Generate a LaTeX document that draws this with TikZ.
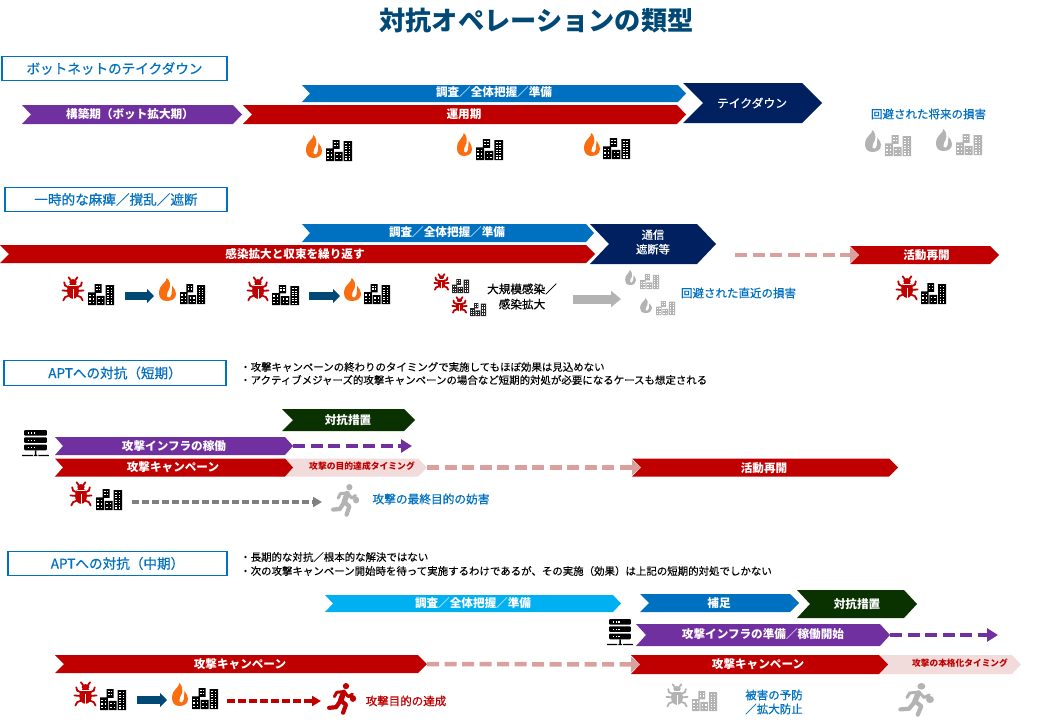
\documentclass[tikz,border=0pt]{standalone}
\usepackage{fontspec}
\setmainfont{Noto Sans CJK JP}
\newfontfamily\medfont[FakeBold=0.6]{Noto Sans CJK JP}
\newfontfamily\notefont[FakeBold=0.2]{Noto Sans CJK JP}
\usetikzlibrary{arrows.meta}
\definecolor{cblue}{HTML}{0070C0}
\definecolor{cred}{HTML}{C00000}
\definecolor{cpurple}{HTML}{7030A0}
\definecolor{cnavy}{HTML}{002060}
\definecolor{cgreen}{HTML}{0A3200}
\definecolor{csky}{HTML}{00B0F0}
\definecolor{cpink}{HTML}{F2DCDB}
\definecolor{cdash}{HTML}{D9A09E}
\definecolor{ctitle}{HTML}{004976}
\definecolor{cgray}{HTML}{B3B3B3}
\definecolor{cflame}{HTML}{F96E10}
\tikzset{
  bartext/.style={text=white,inner sep=0pt,align=center,font=\fontsize{11.6}{15}\selectfont\bfseries},
  bluetext/.style={text=cblue,inner sep=0pt,align=center,font=\fontsize{11.5}{14}\selectfont\medfont},
  secbox/.style={draw=cblue,line width=1.7pt,fill=white,inner sep=0pt,text=cblue,font=\fontsize{13.6}{16}\selectfont\medfont},
  notetext/.style={text=black,inner sep=0pt,anchor=west,font=\fontsize{10.45}{13}\selectfont\notefont},
  pinkdash/.style={draw=cdash,line width=4.5pt,dash pattern=on 12pt off 5.5pt,-{Triangle[length=9pt,width=15pt,fill=cdash]}},
  purpdash/.style={draw=cpurple,line width=3.8pt,dash pattern=on 12pt off 5.5pt,-{Triangle[length=11pt,width=13pt,fill=cpurple]}},
  graydash/.style={draw=black!50,line width=3.3pt,dash pattern=on 7pt off 3pt,-{Triangle[length=9pt,width=10pt,fill=black!50]}},
  reddash/.style={draw=cred,line width=3.3pt,dash pattern=on 8pt off 3pt,-{Triangle[length=9pt,width=10pt,fill=cred]}},
  blockblue/.style={draw=ctitle,line width=8pt,-{Triangle[length=7pt,width=14pt,fill=ctitle]}},
  blockgray/.style={draw=cgray,line width=9pt,-{Triangle[length=10pt,width=16pt,fill=cgray]}},
}
% chevron: name x1 x2 top bottom notch colour
\newcommand{\chev}[7]{%
  \fill[#7] (#2,#4) -- ({#3-#6},#4) -- (#3,{(#4+#5)/2}) -- ({#3-#6},#5) -- (#2,#5) -- ({#2+#6},{(#4+#5)/2}) -- cycle;
  \coordinate (#1-tip) at (#3,{(#4+#5)/2});
  \coordinate (#1-notch) at ({#2+#6},{(#4+#5)/2});
}
\newcommand{\bx}[5]{% x1 y1 x2 y2 body
  \pgfmathsetmacro\icw{(#3-#1)/100}\pgfmathsetmacro\ich{(#4-#2)/100}
  \begin{scope}[shift={(#1,#2)},x=\icw pt,y=-\ich pt]#5\end{scope}}
\newcommand{\bldg}[5]{\bx{#1}{#2}{#3}{#4}{%
  \fill[#5] (25,0) rectangle (52,42) (0,40) rectangle (30,100) (33,56) rectangle (64,100) (68,5) rectangle (100,100);
  \foreach \i in {31,42} \foreach \j in {8,22} \fill[white] (\i,\j) rectangle +(6,7);
  \foreach \i in {5,18} \foreach \j in {52,68,84} \fill[white] (\i,\j) rectangle +(6,7);
  \foreach \i in {39,52} \foreach \j in {66,84} \fill[white] (\i,\j) rectangle +(6,7);
  \foreach \i in {74,87} \foreach \j in {16,28,...,90} \fill[white] (\i,\j) rectangle +(6,5);
}}
\newcommand{\flame}[5]{\bx{#1}{#2}{#3}{#4}{%
  \fill[#5] (45,100) .. controls (15,100) and (0,85) .. (0,65) .. controls (0,45) and (12,35) .. (28,22)
    .. controls (38,15) and (45,10) .. (45,0) .. controls (65,10) and (68,30) .. (62,45)
    .. controls (55,58) and (42,68) .. (46,80) .. controls (50,90) and (68,88) .. (74,70)
    .. controls (78,55) and (75,50) .. (78,35) .. controls (95,50) and (100,60) .. (100,70)
    .. controls (100,90) and (75,100) .. (45,100) -- cycle;
}}
\newcommand{\bug}[5]{\bx{#1}{#2}{#3}{#4}{%
  \fill[#5] (50,58) ellipse [x radius=27,y radius=33];
  \fill[#5] (50,21) ellipse [x radius=17,y radius=12];
  \draw[#5,line width=1.8pt,line cap=round] (40,14)--(30,1) (60,14)--(70,1)
    (28,42)--(14,36)--(10,22) (72,42)--(86,36)--(90,22)
    (26,58)--(2,56) (74,58)--(98,56)
    (30,78)--(14,84)--(6,98) (70,78)--(86,84)--(94,98);
  \draw[white,line width=0.5pt] (50,48)--(50,92);
  \draw[white,line width=0.4pt] (32,33) -- (68,33);
}}
\newcommand{\server}[4]{\bx{#1}{#2}{#3}{#4}{%
  \foreach \j in {0,27,54} {
    \fill[black,rounded corners=1pt] (8,\j) rectangle +(84,21);
    \foreach \i in {22,33,44} \fill[white] (\i,\j+9) rectangle +(5,5);
  }
  \fill[black] (48,75) rectangle (53,96) (0,92) rectangle (40,97) (61,92) rectangle (100,97) (44,92) rectangle (57,97);
}}
\newcommand{\runner}[5]{\bx{#1}{#2}{#3}{#4}{%
  \fill[#5] (62,10) ellipse [x radius=11,y radius=10];
  \fill[#5] (86,50) ellipse [x radius=11,y radius=11];
  \draw[#5,line width=5.5pt,line cap=round,line join=round]
    (54,30)--(44,56);
  \draw[#5,line width=4.2pt,line cap=round,line join=round]
    (44,56)--(62,70)--(52,96)
    (44,56)--(28,78)--(4,80);
  \draw[#5,line width=3pt,line cap=round,line join=round]
    (52,28)--(30,30)--(22,44) (56,28)--(70,44)--(84,36);
}}
\begin{document}
\begin{tikzpicture}[x=1pt,y=-1pt]
\useasboundingbox (0,0) rectangle (1046,725);
\node[inner sep=0pt,text=ctitle,font=\fontsize{26.2}{30}\selectfont\bfseries] (title) at (536.5,20.5) {対抗オペレーションの類型};

% ---- section 1
\node[secbox,minimum width=225pt,minimum height=24pt] (s1) at (114.5,68.5) {\raisebox{1pt}{ボットネットのテイクダウン}};
\chev{a1}{302}{686}{85}{102}{8}{cblue}
\chev{a2}{22}{242}{105}{124}{9}{cpurple}
\chev{a3}{243}{686}{105}{124}{9}{cred}
\chev{a4}{683}{822}{83}{123}{20}{cnavy}
\node[bartext] (a1t) at (494,92.5) {調査／全体把握／準備};
\node[bartext] (a2t) at (130,114) {構築期（ボット拡大期）};
\node[bartext] (a3t) at (464,114) {運用期};
\node[bartext,font=\fontsize{11.8}{15}\selectfont\medfont] (a4t) at (752,103) {テイクダウン};
\flame{306}{135}{322}{158}{cflame}\bldg{326}{140}{352}{161}{black}
\flame{457}{133}{472}{156}{cflame}\bldg{476}{139}{503}{160}{black}
\flame{584}{133}{600}{156}{cflame}\bldg{603}{138}{630}{159}{black}
\flame{865}{130}{881}{152}{cgray}\bldg{885}{135}{911}{156}{cgray}
\flame{936}{129}{952}{151}{cgray}\bldg{956}{134}{982}{155}{cgray}
\node[bluetext] (a5) at (928.5,114) {回避された将来の損害};

% ---- section 2
\node[secbox,minimum width=222pt,minimum height=24pt] (s2) at (116,199.5) {\raisebox{1pt}{一時的な麻痺／撹乱／遮断}};
\chev{b1}{302}{594}{224}{242}{8}{cblue}
\chev{b2}{0}{595}{245}{263}{9}{cred}
\chev{b3}{590}{716}{224}{264}{19}{cnavy}
\chev{b4}{850}{999}{246}{264}{9}{cred}
\node[bartext] (b1t) at (447,232.5) {調査／全体把握／準備};
\node[bartext] (b2t) at (295,254) {感染拡大と収束を繰り返す};
\node[bartext,font=\fontsize{11.3}{14.5}\selectfont\medfont] (b3t) at (653,242) {通信\\遮断等};
\node[bartext] (b4t) at (926.5,255) {活動再開};
\coordinate (b5) at (735,255);
\draw[pinkdash] (b5) -- (b4-notch);
\bug{62}{277}{84}{301}{cred}\bldg{88}{284}{114}{305}{black}
\coordinate (c1) at (125,296); \coordinate (c2) at (154,296);
\draw[blockblue] (c1) -- (c2);
\flame{159}{278}{176}{301}{cflame}\bldg{180}{284}{205}{304}{black}
\bug{247}{277}{269}{301}{cred}\bldg{272}{285}{299}{305}{black}
\coordinate (c3) at (309,296); \coordinate (c4) at (340,296);
\draw[blockblue] (c3) -- (c4);
\flame{344}{278}{361}{301}{cflame}\bldg{364}{284}{390}{304}{black}
\bug{434}{274}{449}{290}{cred}\bldg{452}{279}{469}{293}{black!85}
\bug{452}{297}{467}{313}{cred}\bldg{470}{303}{486}{316}{black!85}
\node[inner sep=0pt,align=center,text=black,font=\fontsize{11.6}{15.2}\selectfont\medfont] (b6) at (522,296.5) {大規模感染／\\感染拡大};
\coordinate (c5) at (573,299); \coordinate (c6) at (621,299);
\draw[blockgray] (c5) -- (c6);
\flame{625}{270}{636}{285}{cgray}\bldg{640}{274}{659}{289}{cgray}
\flame{640}{298}{652}{313}{cgray}\bldg{656}{301}{675}{315}{cgray}
\node[bluetext] (b7) at (738.5,293) {回避された直近の損害};
\bug{896}{276}{918}{300}{cred}\bldg{921}{283}{946}{304}{black}

% ---- section 3
\node[secbox,minimum width=222pt,minimum height=25pt] (s3) at (115,373) {\raisebox{1pt}{APTへの対抗（短期）}};
\node[notetext] (n1) at (240,367) {・攻撃キャンペーンの終わりのタイミングで実施してもほぼ効果は見込めない};
\node[notetext] (n2) at (240,380) {・アクティブメジャーズ的攻撃キャンペーンの場合など短期的対処が必要になるケースも想定される};
\chev{d1}{282}{415}{409}{431}{11}{cgreen}
\chev{d2}{55}{293}{437}{455}{8}{cpurple}
\chev{d4}{275}{427}{458.5}{476.5}{9}{cpink}
\chev{d3}{55}{293}{458.5}{476.5}{8}{cred}
\chev{d5}{632}{898}{458.5}{476.5}{9}{cred}
\coordinate (d6) at (412,446);
\draw[purpdash] (d2-tip) -- (d6);
\draw[pinkdash] (d4-tip) -- (d5-notch);
\node[bartext] (d1t) at (348,420) {対抗措置};
\node[bartext] (d2t) at (174,446) {攻撃インフラの稼働};
\node[bartext] (d3t) at (173,467) {攻撃キャンペーン};
\node[inner sep=0pt,text=cred,font=\fontsize{8.8}{11}\selectfont\bfseries] (d4t) at (362,466.5) {攻撃の目的達成タイミング};
\node[bartext] (d5t) at (764,468) {活動再開};
\server{22}{430}{49}{457}
\bug{70}{482}{92}{506}{cred}\bldg{96}{489}{122}{510}{black}
\coordinate (d7) at (132,502); \coordinate (d8) at (322,502);
\draw[graydash] (d7) -- (d8);
\runner{332}{484}{360}{516}{cgray}
\node[bluetext,font=\fontsize{11.7}{14}\selectfont\medfont] (d9) at (431,499) {攻撃の最終目的の妨害};

% ---- section 4
\node[secbox,minimum width=219pt,minimum height=24pt] (s4) at (117.5,563.5) {\raisebox{1.2pt}{APTへの対抗（中期）}};
\node[notetext] (n3) at (240,557) {・長期的な対抗／根本的な解決ではない};
\node[notetext] (n4) at (240,571) {・次の攻撃キャンペーン開始時を待って実施するわけであるが、その実施（効果）は上記の短期的対処でしかない};
\chev{e1}{325}{621}{595}{612}{8}{csky}
\chev{e2}{640}{799}{594}{612}{9}{cblue}
\chev{e3}{797}{917}{590}{618}{13}{cgreen}
\chev{e4}{636}{890}{624}{646}{10}{cpurple}
\chev{e6}{870}{1021}{655}{674}{9}{cpink}
\chev{e5}{631}{888}{655}{674}{9}{cred}
\chev{e7}{55}{427}{655}{673}{9}{cred}
\coordinate (e8) at (998,635);
\draw[purpdash] (e4-tip) -- (e8);
\draw[pinkdash] (e7-tip) -- (e5-notch);
\node[bartext] (e1t) at (473,603) {調査／全体把握／準備};
\node[bartext] (e2t) at (719,603) {補足};
\node[bartext] (e3t) at (857,604) {対抗措置};
\node[bartext] (e4t) at (763,634.5) {攻撃インフラの準備／稼働開始};
\node[bartext] (e5t) at (758,664) {攻撃キャンペーン};
\node[inner sep=0pt,text=cred,font=\fontsize{8.7}{11}\selectfont\bfseries] (e6t) at (960,663) {攻撃の本格化タイミング};
\node[bartext] (e7t) at (240,664) {攻撃キャンペーン};
\server{607}{619}{633}{646}
\bug{74}{682}{97}{706}{cred}\bldg{100}{689}{126}{710}{black}
\coordinate (f1) at (137,700); \coordinate (f2) at (167,700);
\draw[blockblue] (f1) -- (f2);
\flame{172}{683}{188}{706}{cflame}\bldg{192}{688}{218}{709}{black}
\coordinate (f3) at (227,701); \coordinate (f4) at (321,701);
\draw[reddash] (f3) -- (f4);
\runner{328}{683}{357}{714}{cred}
\node[bluetext,text=cred] (f5) at (406,701) {攻撃目的の達成};
\bug{666}{684}{688}{707}{cgray}\bldg{692}{691}{717}{711}{cgray}
\node[bluetext,font=\fontsize{11.5}{14}\selectfont\medfont] (f6) at (774,702) {被害の予防\\／拡大防止};
\runner{899}{683}{935}{716}{cgray}
\end{tikzpicture}
\end{document}
